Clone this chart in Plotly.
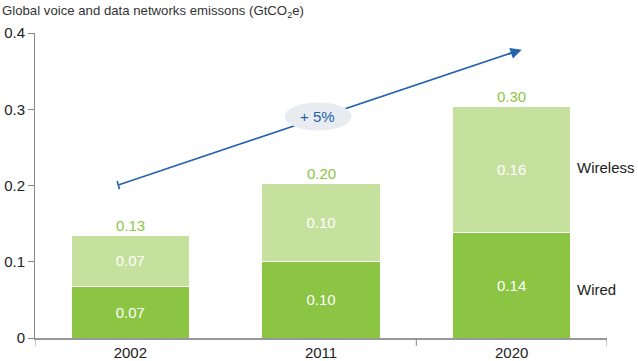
import plotly.graph_objects as go

years = ["2002", "2011", "2020"]
wired = [0.068, 0.100, 0.139]
wireless = [0.066, 0.102, 0.164]
wired_labels = ["0.07", "0.10", "0.14"]
wireless_labels = ["0.07", "0.10", "0.16"]
total_labels = ["0.13", "0.20", "0.30"]
y_ticks = [0, 0.1, 0.2, 0.3, 0.4]
y_tick_labels = ["0", "0.1", "0.2", "0.3", "0.4"]
growth_label = "+ 5%"

FONT = "Liberation Sans, Arial, Helvetica, sans-serif"
DARK_GREEN = "#8cc443"
LIGHT_GREEN = "#c6e09e"
BLUE = "#2463ad"
FS = 15

xs = list(range(len(years)))
totals = [a + b for a, b in zip(wired, wireless)]

fig = go.Figure()
fig.add_trace(go.Bar(
    x=xs, y=wired, width=0.62, name="Wired",
    marker=dict(color=DARK_GREEN, line=dict(color="white", width=1)),
    text=wired_labels, textposition="inside", insidetextanchor="middle",
    textfont=dict(color="white", size=FS, family=FONT), textangle=0,
))
fig.add_trace(go.Bar(
    x=xs, y=wireless, width=0.62, name="Wireless",
    marker=dict(color=LIGHT_GREEN, line=dict(color="white", width=1)),
    text=wireless_labels, textposition="inside", insidetextanchor="middle",
    textfont=dict(color="white", size=FS, family=FONT), textangle=0,
))

annotations = []
for x, t, lab in zip(xs, totals, total_labels):
    annotations.append(dict(x=x, y=t, text=lab, showarrow=False, yanchor="bottom",
                            yshift=0, font=dict(color=DARK_GREEN, size=FS, family=FONT)))

# title
annotations.append(dict(xref="paper", yref="paper", x=-35/572, y=1.07, xanchor="left",
                        yanchor="middle", showarrow=False,
                        text="Global voice and data networks emissons (GtCO<sub>2</sub>e)",
                        font=dict(color="#333333", size=13.2, family=FONT)))

# series labels
annotations.append(dict(xref="x", yref="y", x=2.33, y=wired[2] + wireless[2] / 2 + 0.002,
                        xanchor="left", showarrow=False, text="Wireless",
                        font=dict(color="#222222", size=FS, family=FONT)))
annotations.append(dict(xref="x", yref="y", x=2.33, y=0.063,
                        xanchor="left", showarrow=False, text="Wired",
                        font=dict(color="#222222", size=FS, family=FONT)))

# arrowhead only (line drawn as shape so the ellipse can break it)
annotations.append(dict(x=2.053, y=0.378, ax=-15, ay=5, xref="x", yref="y",
                        showarrow=True, arrowhead=2, arrowsize=1.4,
                        arrowwidth=1.6, arrowcolor=BLUE, text=""))
annotations.append(dict(x=0.98, y=0.290, text=growth_label, showarrow=False,
                        font=dict(color=BLUE, size=FS, family=FONT)))

shapes = [
    dict(type="line", xref="x", yref="y", x0=-0.063, y0=0.2007, x1=2.04, y1=0.3775,
         line=dict(color=BLUE, width=1.6), layer="above"),
    dict(type="circle", xref="x", yref="y", x0=0.81, x1=1.16, y0=0.272, y1=0.309,
         fillcolor="#e8ebf0", line=dict(width=0), layer="above"),
    dict(type="line", xref="x", yref="y", x0=-0.069, x1=-0.057, y0=0.206, y1=0.195,
         line=dict(color=BLUE, width=1.6), layer="above"),
]
for bx in [-0.5, 1.5, 2.5]:
    shapes.append(dict(type="line", xref="x", yref="paper", x0=bx, x1=bx, y0=0, y1=-0.026,
                       line=dict(color="#888888", width=1)))

fig.update_layout(
    width=638, height=361,
    margin=dict(l=35, r=31, t=33, b=23),
    paper_bgcolor="white", plot_bgcolor="white",
    barmode="stack", showlegend=False,
    font=dict(family=FONT, size=FS, color="#222222"),
    annotations=annotations, shapes=shapes,
    xaxis=dict(range=[-0.5, 2.5], tickvals=xs, ticktext=years, showgrid=False,
               showline=True, linecolor="#999999", linewidth=1.5, ticks="",
               automargin=False,
               tickfont=dict(size=FS, color="#222222", family=FONT), fixedrange=True),
    yaxis=dict(range=[0, 0.4], tickvals=y_ticks, ticktext=y_tick_labels, showgrid=False,
               showline=True, linecolor="#888888", linewidth=1, ticks="outside",
               ticklen=6, tickcolor="#888888", zeroline=False, automargin=False,
               tickfont=dict(size=FS, color="#222222", family=FONT)),
)
fig.write_html("out.html", config={"displayModeBar": False},
               post_script="document.body.style.margin='0';document.body.style.overflow='hidden';")
